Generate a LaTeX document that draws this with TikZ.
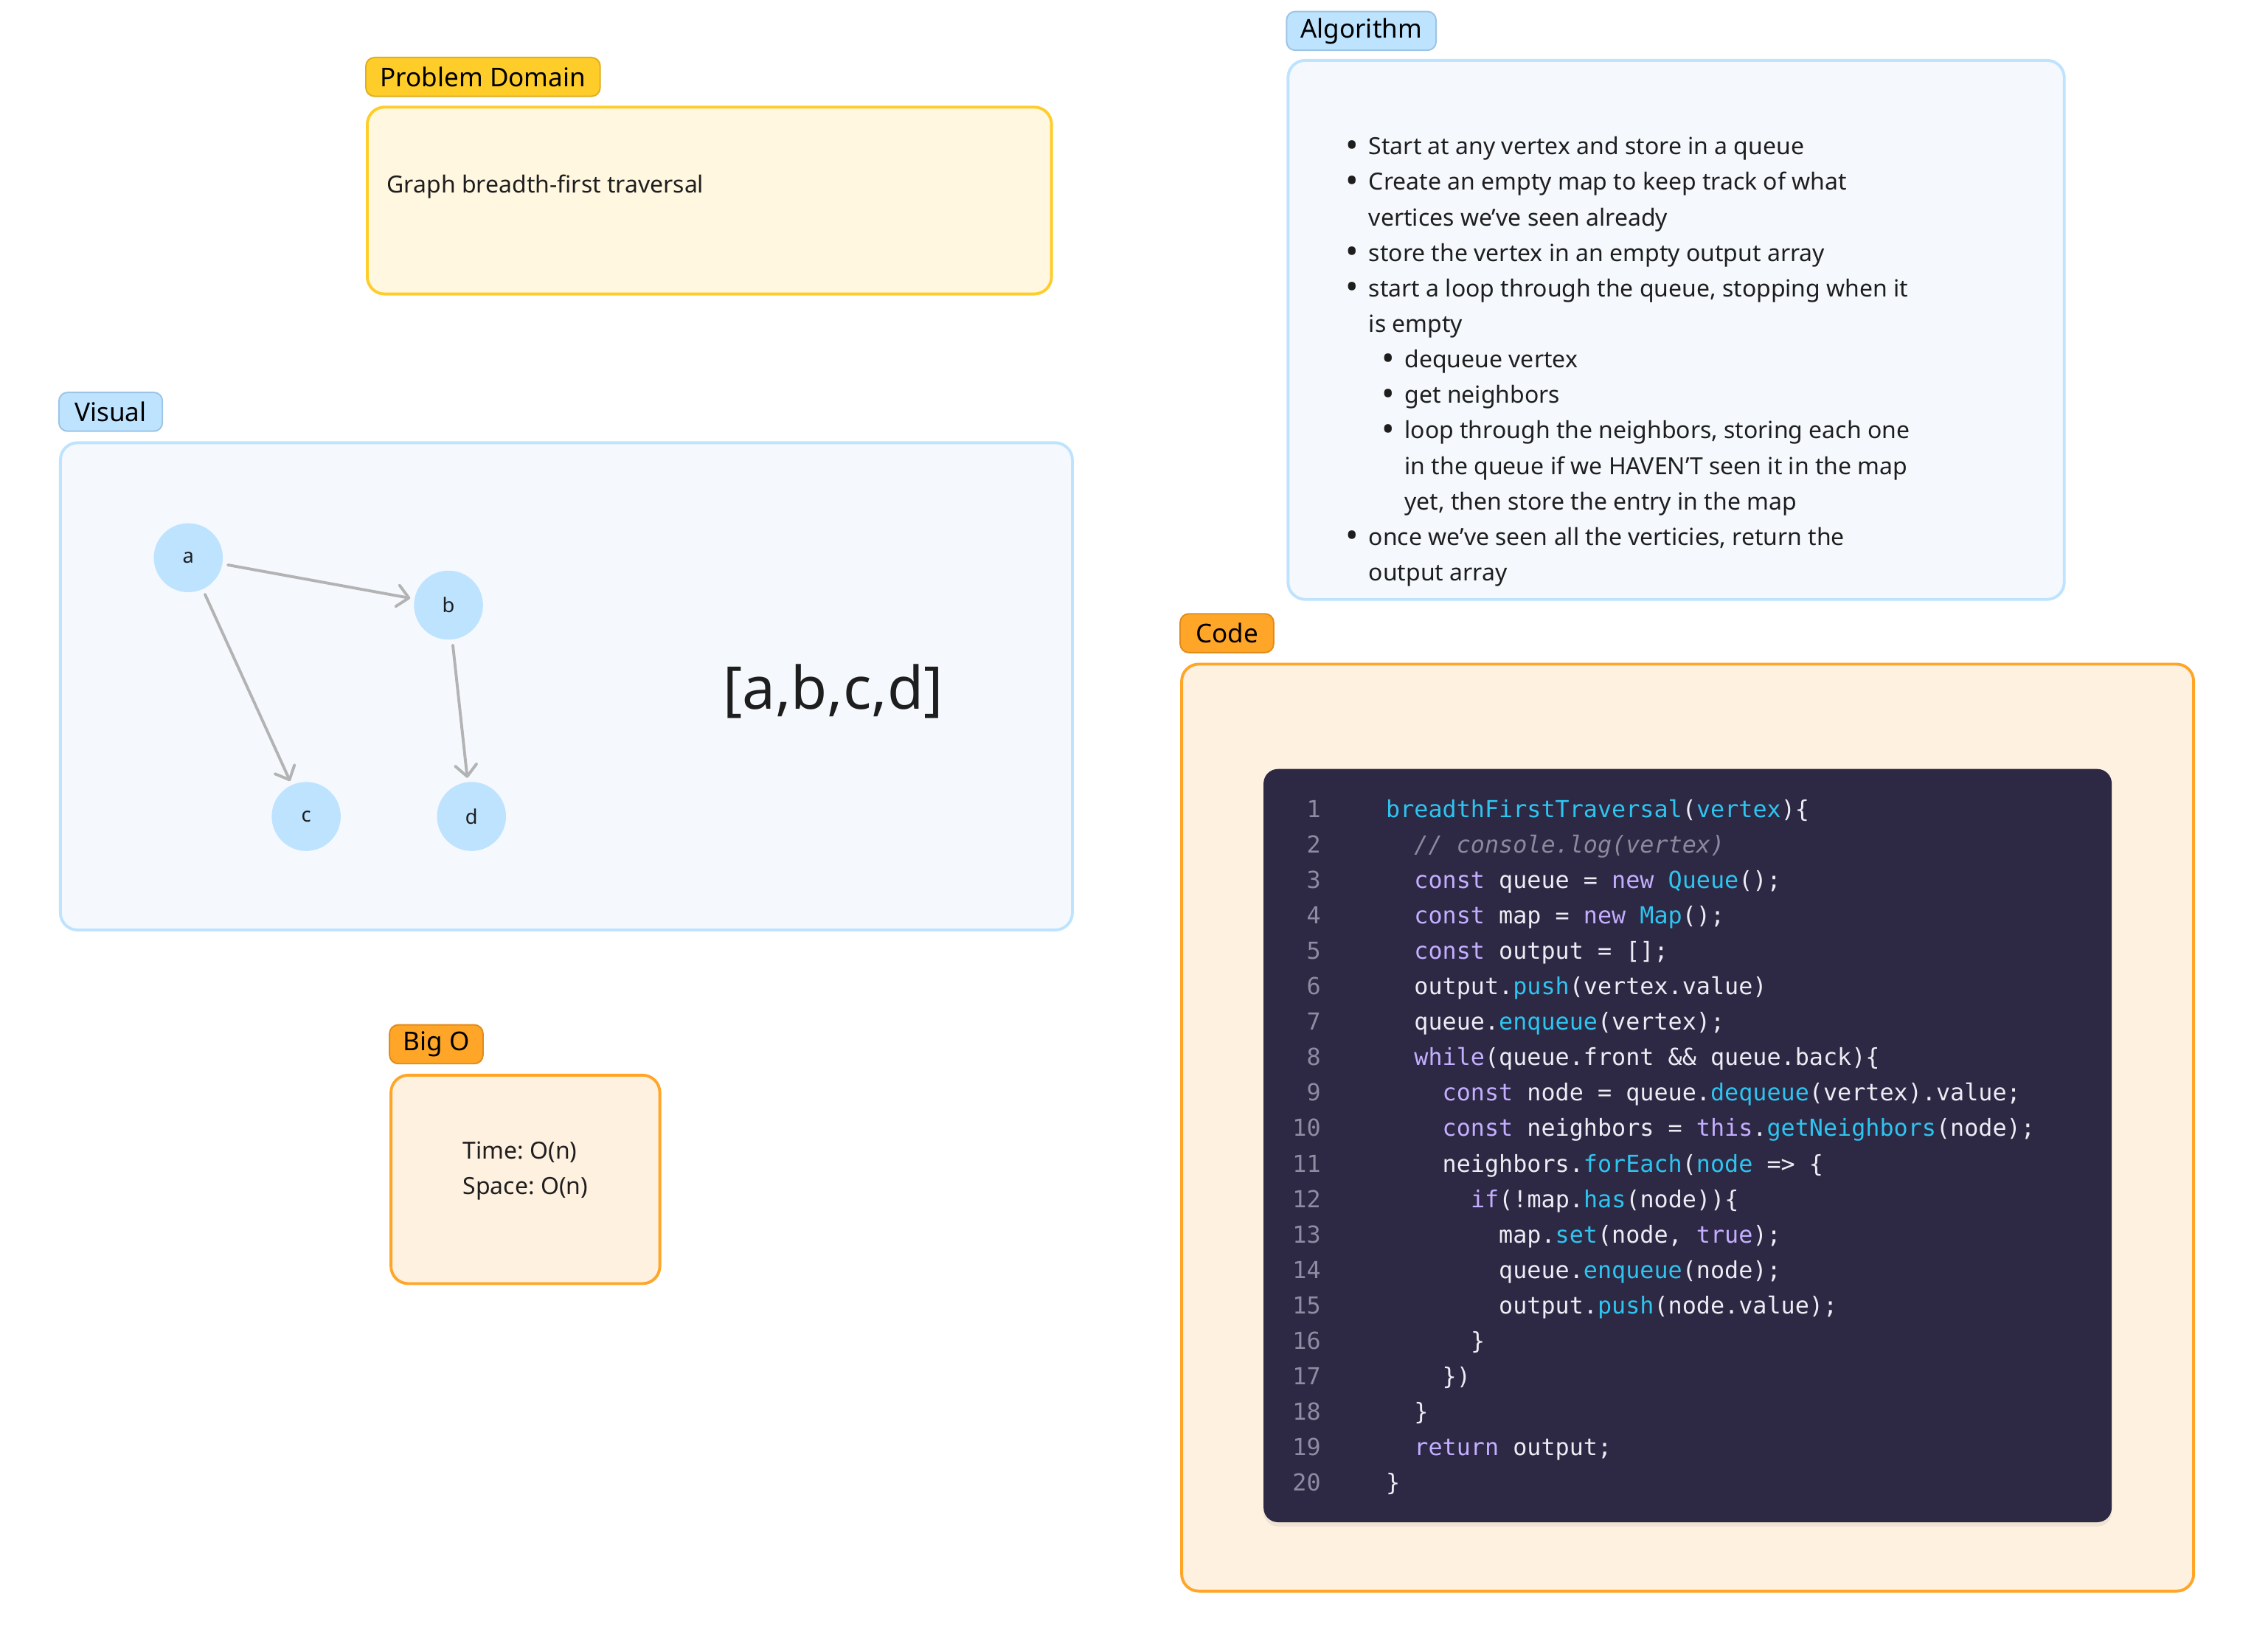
\documentclass[tikz,border=0pt]{standalone}
\usepackage{fontspec}
\usepackage{tkz-graph}
\usetikzlibrary{arrows.meta,positioning,shadows}
\setmainfont{Noto Sans}
\setmonofont{DejaVu Sans Mono}
\frenchspacing

\definecolor{ink}{HTML}{1E1E1E}
\definecolor{tagyellow}{HTML}{FFCD29}
\definecolor{tagyellowline}{HTML}{E0AE1E}
\definecolor{boxyellow}{HTML}{FFF7E0}
\definecolor{tagblue}{HTML}{BDE3FF}
\definecolor{tagblueline}{HTML}{9DC4E4}
\definecolor{boxblue}{HTML}{F5F9FE}
\definecolor{tagorange}{HTML}{FFA629}
\definecolor{tagorangeline}{HTML}{E08C1C}
\definecolor{boxorange}{HTML}{FFF1E0}
\definecolor{codebg}{HTML}{2D2843}
\definecolor{codeplain}{HTML}{ECECF4}
\definecolor{codekwc}{HTML}{C4AEFF}
\definecolor{codefnc}{HTML}{2EC4F0}
\definecolor{codecmc}{HTML}{8C889E}
\definecolor{codeno}{HTML}{8E8BA2}
\definecolor{edgegray}{HTML}{B3B3B3}

\newcommand{\codekw}[1]{\textcolor{codekwc}{#1}}
\newcommand{\codefn}[1]{\textcolor{codefnc}{#1}}
\newcommand{\codecm}[1]{\textcolor{codecmc}{\itshape #1}}
\newcommand{\algdot}{\raisebox{-1.8pt}{\fontsize{24}{24}\selectfont•}}
\newcommand{\algitem}{\makebox[16pt][l]{\algdot}}
\newcommand{\algsub}{\hspace*{25pt}\makebox[16pt][l]{\algdot}}

\tikzset{
  TagStyle/.style = { rectangle, rounded corners=6pt, line width=1pt,
                      minimum height=27pt, inner sep=0pt, text=black,
                      font = \fontsize{18}{21}\selectfont },
  PanelStyle/.style = { rectangle, rounded corners=12pt, line width=2pt,
                        inner sep=0pt },
  BodyText/.style = { inner sep=0pt, text=ink,
                      font = \fontsize{16.4}{24.7}\selectfont },
  CodeLine/.style = { anchor=base west, inner sep=0pt, text=codeplain,
                      font = \ttfamily\fontsize{16.3}{24.7}\selectfont },
  LineNo/.style = { anchor=base east, inner sep=0pt, text=codeno,
                    font = \ttfamily\fontsize{16.3}{24.7}\selectfont },
  EdgeStyle/.style = { draw=edgegray, line width=2pt, line cap=round,
                       shorten <=4pt, shorten >=3pt } }

\begin{document}
\begin{tikzpicture}[x=1pt,y=-1pt,
    >={Straight Barb[length=8pt,width=15pt,round]}]
  \useasboundingbox (0,0) rectangle (1568,1149.3);

  % problem domain
  \node[TagStyle, fill=tagyellow, draw=tagyellowline, minimum width=163pt] (pdtag) at (336,53.5) {Problem Domain};
  \node[PanelStyle, fill=boxyellow, draw=tagyellow, minimum width=476pt, minimum height=130pt] (pdbox) at (493.5,139.5) {};
  \node[BodyText, anchor=base west] (pdtext) at (269,134.2) {Graph breadth-first traversal};

  % visual
  \node[TagStyle, fill=tagblue, draw=tagblueline, minimum width=72pt] (vistag) at (77,286.5) {Visual};
  \node[PanelStyle, fill=boxblue, draw=tagblue, minimum width=704pt, minimum height=339pt] (visbox) at (394,477.5) {};
  \tikzstyle{VertexStyle}=[shape = circle, fill = tagblue, draw = none, minimum size = 48pt,
                           inner sep = 0pt, text = ink, font = \fontsize{14}{16}\selectfont]
  \Vertex[x=131,y=388]{a}
  \Vertex[x=312,y=421]{b}
  \Vertex[x=213,y=568]{c}
  \Vertex[x=328,y=568]{d}
  \tikzset{
  EdgeStyle/.append style = {->} }
  \Edge(a)(b)
  \Edge(a)(c)
  \Edge(b)(d)
  \node[inner sep=0pt, text=ink, font=\fontsize{41}{48}\selectfont] (order) at (579.5,481) {[a,b,c,d]};

  % big o
  \node[TagStyle, fill=tagorange, draw=tagorangeline, minimum width=65pt] (bigotag) at (303.5,726.5) {Big O};
  \node[PanelStyle, fill=boxorange, draw=tagorange, minimum width=187pt, minimum height=145pt] (bigobox) at (365.5,820.5) {};
  \node[BodyText, align=left] (bigotext) at (365.5,814.5) {Time: O(n)\\Space: O(n)};

  % algorithm
  \node[TagStyle, fill=tagblue, draw=tagblueline, minimum width=104pt] (algtag) at (947,21.5) {Algorithm};
  \node[PanelStyle, fill=boxblue, draw=tagblue, minimum width=540pt, minimum height=375pt] (algbox) at (1166,229.5) {};
  \node[BodyText, align=left, anchor=north west] (algtext) at (936,95) {%
    \algitem Start at any vertex and store in a queue\\
    \algitem Create an empty map to keep track of what\\
    \hspace*{16pt}vertices we’ve seen already\\
    \algitem store the vertex in an empty output array\\
    \algitem start a loop through the queue, stopping when it\\
    \hspace*{16pt}is empty\\
    \algsub dequeue vertex\\
    \algsub get neighbors\\
    \algsub loop through the neighbors, storing each one\\
    \hspace*{41pt}in the queue if we HAVEN’T seen it in the map\\
    \hspace*{41pt}yet, then store the entry in the map\\
    \algitem once we’ve seen all the verticies, return the\\
    \hspace*{16pt}output array};

  % code
  \node[TagStyle, fill=tagorange, draw=tagorangeline, minimum width=65pt] (codetag) at (853.5,440.5) {Code};
  \node[PanelStyle, fill=boxorange, draw=tagorange, minimum width=704pt, minimum height=645pt] (codebox) at (1174,784.5) {};
  \node[rectangle, rounded corners=10pt, fill=codebg, minimum width=590pt, minimum height=524pt,
        drop shadow={opacity=0.12, shadow xshift=0pt, shadow yshift=-3pt}] (codepanel) at (1174,797) {};
  \foreach \n in {1,...,20}
    \node[LineNo] (no\n) at (919,{568.5+24.68*(\n-1)}) {\n};

  \node[CodeLine] (c1) at (964,568.5) {\codefn{breadthFirstTraversal}(\codefn{vertex})\{};
  \node[CodeLine] (c2) at (983.6,593.2) {\codecm{// console.log(vertex)}};
  \node[CodeLine] (c3) at (983.6,617.9) {\codekw{const} queue = \codekw{new} \codefn{Queue}();};
  \node[CodeLine] (c4) at (983.6,642.5) {\codekw{const} map = \codekw{new} \codefn{Map}();};
  \node[CodeLine] (c5) at (983.6,667.2) {\codekw{const} output = [];};
  \node[CodeLine] (c6) at (983.6,691.9) {output.\codefn{push}(vertex.value)};
  \node[CodeLine] (c7) at (983.6,716.6) {queue.\codefn{enqueue}(vertex);};
  \node[CodeLine] (c8) at (983.6,741.3) {\codekw{while}(queue.front \&\& queue.back)\{};
  \node[CodeLine] (c9) at (1003.2,765.9) {\codekw{const} node = queue.\codefn{dequeue}(vertex).value;};
  \node[CodeLine] (c10) at (1003.2,790.6) {\codekw{const} neighbors = \codekw{this}.\codefn{getNeighbors}(node);};
  \node[CodeLine] (c11) at (1003.2,815.3) {neighbors.\codefn{forEach}(\codefn{node} => \{};
  \node[CodeLine] (c12) at (1022.9,840.0) {\codekw{if}(!map.\codefn{has}(node))\{};
  \node[CodeLine] (c13) at (1042.5,864.7) {map.\codefn{set}(node, \codekw{true});};
  \node[CodeLine] (c14) at (1042.5,889.3) {queue.\codefn{enqueue}(node);};
  \node[CodeLine] (c15) at (1042.5,914.0) {output.\codefn{push}(node.value);};
  \node[CodeLine] (c16) at (1022.9,938.7) {\}};
  \node[CodeLine] (c17) at (1003.2,963.4) {\})};
  \node[CodeLine] (c18) at (983.6,988.1) {\}};
  \node[CodeLine] (c19) at (983.6,1012.7) {\codekw{return} output;};
  \node[CodeLine] (c20) at (964,1037.4) {\}};

\end{tikzpicture}
\end{document}
